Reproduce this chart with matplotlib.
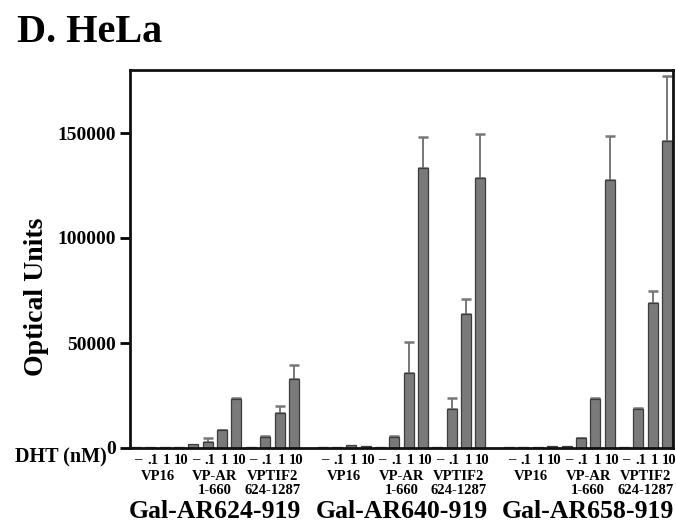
import numpy as np
import matplotlib
matplotlib.use("Agg")
import matplotlib.pyplot as plt
from matplotlib import transforms

plt.rcParams['font.family'] = ['Liberation Serif', 'DejaVu Serif']
plt.rcParams['font.weight'] = 'bold'

# Reporter constructs (Gal4 fusions) and VP16-fused partners
groups = ["Gal-AR624-919", "Gal-AR640-919", "Gal-AR658-919"]
constructs_line1 = ["VP16", "VP-AR", "VPTIF2"]
constructs_line2 = ["", "1-660", "624-1287"]
doses = ["\u2013", ".1", "1", "10"]

# Mean optical units per group -> construct -> DHT dose (-, .1, 1, 10 nM)
means_ar624 = [[300, 300, 300, 400],
               [1900, 2900, 8500, 23500],
               [300, 5200, 16500, 33000]]
means_ar640 = [[300, 400, 1200, 800],
               [700, 5200, 35500, 133500],
               [300, 18500, 64000, 128500]]
means_ar658 = [[300, 400, 700, 1000],
               [1000, 4700, 23500, 127500],
               [400, 18500, 69000, 146000]]

# Upper error (SD)
err_ar624 = [[0, 0, 0, 0],
             [0, 1800, 300, 400],
             [0, 300, 3300, 6300]]
err_ar640 = [[0, 0, 0, 0],
             [0, 300, 15000, 14500],
             [0, 5500, 7000, 21000]]
err_ar658 = [[0, 0, 0, 0],
             [0, 300, 400, 21000],
             [0, 600, 6000, 31000]]

means = np.array([means_ar624, means_ar640, means_ar658], dtype=float)
errs = np.array([err_ar624, err_ar640, err_ar658], dtype=float)

n_groups, n_cons, n_dose = means.shape
per_group = n_cons * n_dose
x = np.concatenate([g * (per_group + 1) + np.arange(per_group) for g in range(n_groups)])
vals = means.reshape(-1)
upper = errs.reshape(-1)

fig = plt.figure(figsize=(6.76, 5.23), dpi=100)
ax = fig.add_axes([130 / 676, 1 - 448 / 523, 543 / 676, 378 / 523])

ax.bar(x, vals, width=0.7, color="#7a7a7a", edgecolor="#3c3c3c", linewidth=0.9, zorder=2)
mask = upper > 0
ax.errorbar(x[mask], vals[mask], yerr=[np.zeros(mask.sum()), upper[mask]],
            fmt="none", ecolor="#777777", elinewidth=1.4, capsize=3.5, capthick=1.8, zorder=1)

ax.set_xlim(-0.42, x[-1] + 0.42)
ax.set_ylim(0, 180000)
ax.set_yticks([0, 50000, 100000, 150000])
ax.set_yticklabels(["0", "50000", "100000", "150000"], fontsize=14, fontweight="bold")
ax.tick_params(axis="y", direction="out", length=7, width=2, pad=3)

ax.set_xticks(x + 0.15)
ax.set_xticklabels(doses * (n_groups * n_cons), fontsize=10.5, fontweight="bold")
ax.tick_params(axis="x", length=0, pad=4)

for side in ["left", "right", "top", "bottom"]:
    ax.spines[side].set_linewidth(2)
    ax.spines[side].set_color("#111111")

# Construct and group labels under the dose ticks
trans = transforms.blended_transform_factory(ax.transData, fig.transFigure)
for g in range(n_groups):
    base = g * (per_group + 1)
    for c in range(n_cons):
        cx = base + c * n_dose + (n_dose - 1) / 2
        ax.text(cx, 1 - 476 / 523, constructs_line1[c], transform=trans, ha="center",
                va="center", fontsize=10.5, fontweight="bold")
        if constructs_line2[c]:
            ax.text(cx, 1 - 491 / 523, constructs_line2[c], transform=trans, ha="center",
                    va="center", fontsize=10.5, fontweight="bold")
    gx = base + (per_group - 1) / 2
    ax.text(gx, 1 - 511 / 523, groups[g], transform=trans, ha="center", va="center",
            fontsize=18.5, fontweight="bold")

fig.text(37 / 676, 1 - 297 / 523, "Optical Units", rotation=90, ha="center", va="center",
         fontsize=20, fontweight="bold")
fig.text(15 / 676, 1 - 457 / 523, "DHT (nM)", ha="left", va="center",
         fontsize=14.5, fontweight="bold")
fig.text(17 / 676, 1 - 33 / 523, "D. HeLa", ha="left", va="center",
         fontsize=29, fontweight="bold")

fig.savefig("out.png", dpi=100)
